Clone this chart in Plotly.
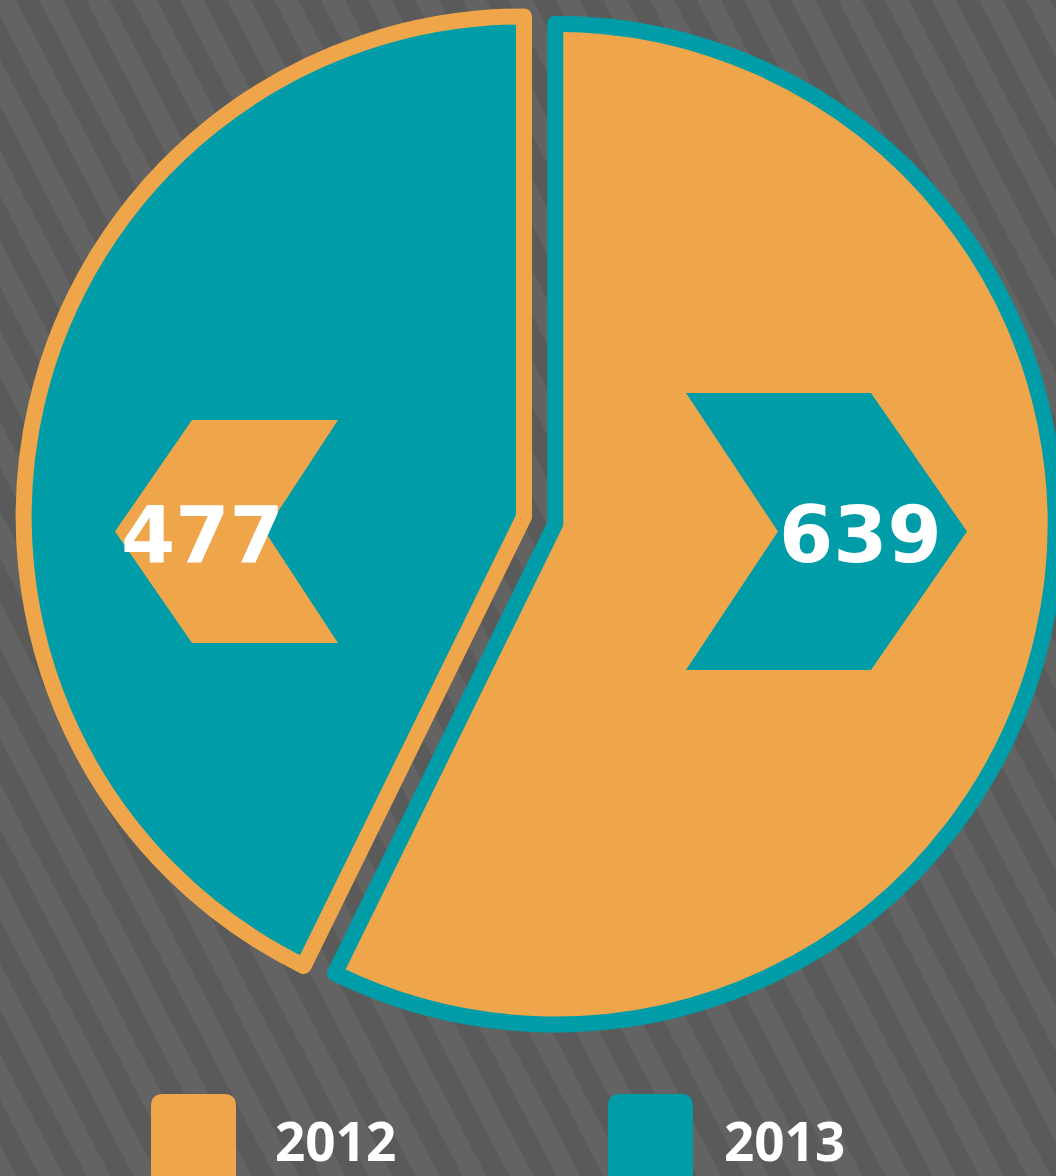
import plotly.graph_objects as go

# ---- data ----
slice_labels = ["2013", "2012"]
slice_values = [639, 477]
legend_labels = ["2012", "2013"]

# ---- style ----
W, H = 1056, 1176
ORANGE = "#EFA54A"
TEAL = "#009DA8"
BG_DARK = "#5a5a5a"
BG_LIGHT = "#636363"
WHITE = "#FFFFFF"

slice_fill = [ORANGE, TEAL]
slice_line = [TEAL, ORANGE]
legend_colors = [ORANGE, TEAL]


def px(x):
    return x / W


def py(y):
    return 1 - y / H


def path(points):
    return "M" + " L".join(f"{px(x):.5f},{py(y):.5f}" for x, y in points) + " Z"


fig = go.Figure()
fig.add_trace(go.Pie(
    labels=slice_labels,
    values=slice_values,
    sort=False,
    direction="clockwise",
    rotation=0,
    pull=[0.032, 0.032],
    marker=dict(colors=slice_fill, line=dict(color=slice_line, width=16)),
    textinfo="none",
    showlegend=False,
    domain=dict(x=[0.022, 1.0], y=[0.115, 1.0]),
    hovertemplate="%{label}: %{value}<extra></extra>",
))

shapes = []

# background diagonal stripes
period, sw, slope, phase = 47.0, 24.0, 0.52, 39.0
stripe_paths = []
x0 = phase - period * 16
while x0 < W + period:
    pts = [(x0, 0), (x0 + sw, 0), (x0 + sw + slope * H, H), (x0 + slope * H, H)]
    stripe_paths.append(path(pts))
    x0 += period
shapes.append(dict(type="path", xref="paper", yref="paper", path=" ".join(stripe_paths),
                   fillcolor=BG_LIGHT, line=dict(width=0), layer="below"))

# chevron label badges
chev_left = [(192, 420), (338, 420), (265, 531.5), (338, 643), (192, 643), (115, 531.5)]
chev_right = [(686, 393), (871, 393), (967, 531.5), (871, 670), (686, 670), (778, 531.5)]
shapes.append(dict(type="path", xref="paper", yref="paper", path=path(chev_left),
                   fillcolor=ORANGE, line=dict(width=0), layer="above"))
shapes.append(dict(type="path", xref="paper", yref="paper", path=path(chev_right),
                   fillcolor=TEAL, line=dict(width=0), layer="above"))


def rounded_rect(xa, ya, xb, yb, r):
    return (f"M{px(xa + r):.5f},{py(ya):.5f} L{px(xb - r):.5f},{py(ya):.5f} "
            f"Q{px(xb):.5f},{py(ya):.5f} {px(xb):.5f},{py(ya + r):.5f} "
            f"L{px(xb):.5f},{py(yb - r):.5f} Q{px(xb):.5f},{py(yb):.5f} {px(xb - r):.5f},{py(yb):.5f} "
            f"L{px(xa + r):.5f},{py(yb):.5f} Q{px(xa):.5f},{py(yb):.5f} {px(xa):.5f},{py(yb - r):.5f} "
            f"L{px(xa):.5f},{py(ya + r):.5f} Q{px(xa):.5f},{py(ya):.5f} {px(xa + r):.5f},{py(ya):.5f} Z")


legend_box_x = [151, 608]
legend_text_x = [273, 722]
annotations = []
for lab, col, bx, tx in zip(legend_labels, legend_colors, legend_box_x, legend_text_x):
    shapes.append(dict(type="path", xref="paper", yref="paper",
                       path=rounded_rect(bx, 1094, bx + 85, 1200, 12),
                       fillcolor=col, line=dict(width=0), layer="above"))
    annotations.append(dict(x=px(tx), y=py(1140), xref="paper", yref="paper", text=lab,
                            showarrow=False, xanchor="left", yanchor="middle",
                            font=dict(family="Open Sans", size=53, color=WHITE, weight="bold")))

# value labels
label_x = [860, 202]
for v, lx in zip(slice_values, label_x):
    annotations.append(dict(x=px(lx), y=py(535), xref="paper", yref="paper", text=str(v),
                            showarrow=False, xanchor="center", yanchor="middle",
                            font=dict(family="DejaVu Sans", size=78, color=WHITE, weight="bold")))

fig.update_layout(
    width=W, height=H,
    margin=dict(l=0, r=0, t=0, b=0),
    paper_bgcolor=BG_DARK,
    plot_bgcolor=BG_DARK,
    shapes=shapes,
    annotations=annotations,
    showlegend=False,
)

fig.write_html(
    "out.html",
    config={"displayModeBar": False},
    post_script="document.body.style.margin='0';document.body.style.overflow='hidden';",
)
